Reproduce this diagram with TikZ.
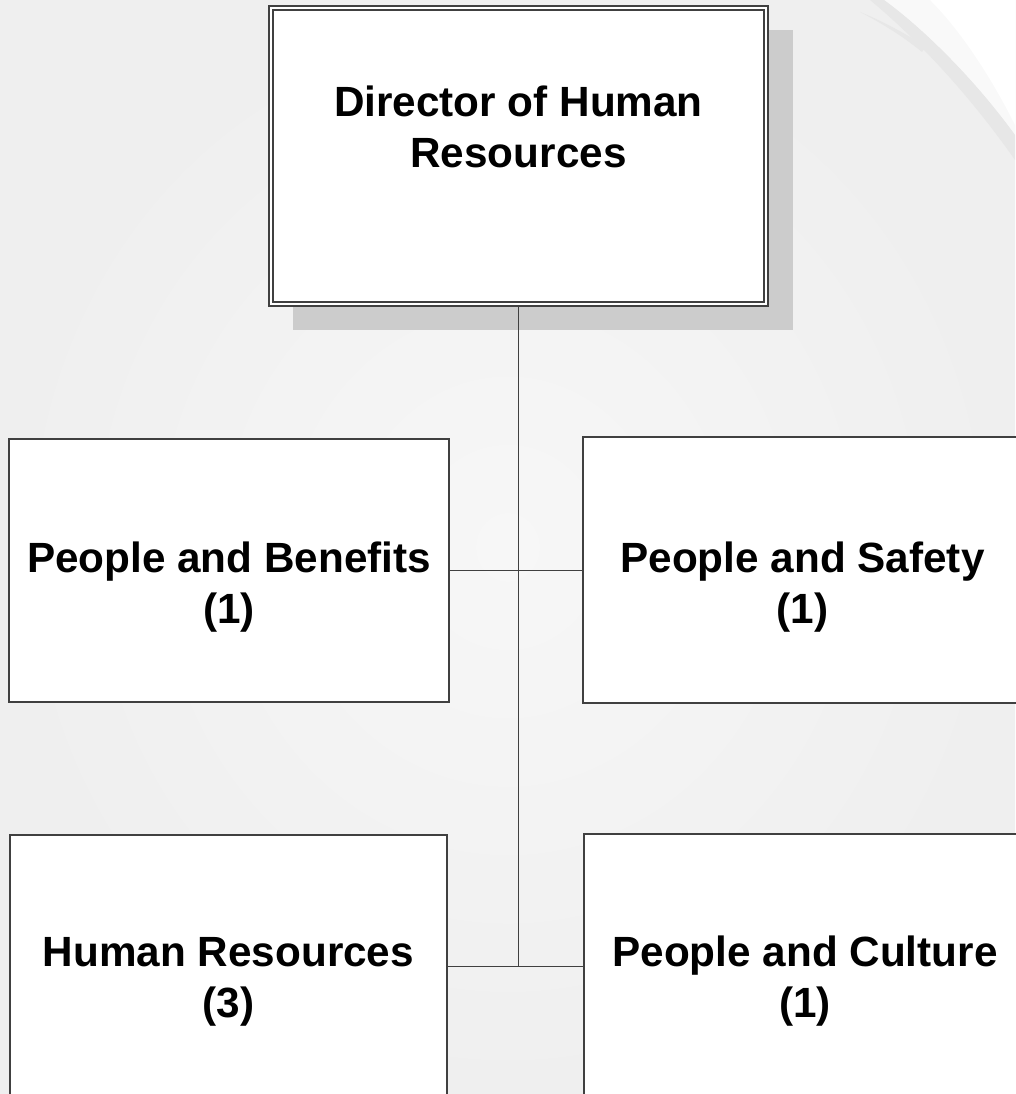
\documentclass[tikz,border=0pt]{standalone}
\usepackage{fontspec}
\setmainfont{Liberation Sans}
\definecolor{linegray}{HTML}{404040}
\definecolor{shadowgray}{HTML}{CCCCCC}
\definecolor{bandgray}{HTML}{E7E7E7}
\definecolor{bgin}{HTML}{F7F7F7}
\definecolor{bgout}{HTML}{EFEFEF}
\begin{document}
\begin{tikzpicture}[x=0.75pt,y=-0.75pt,
  conn/.style={draw=linegray, line width=1.4pt},
  orgbox/.style={draw=linegray, line width=1.4pt, fill=white, rectangle, inner sep=0pt},
  lbl/.style={font=\fontsize{31.7}{38.2}\selectfont\bfseries, align=center, inner sep=0pt}]
% background
\useasboundingbox (0,0) rectangle (1015,1094);
\shade[inner color=bgin, outer color=bgout] (0,0) rectangle (1015,1094);
\fill[white!60!bgout] (884,0) .. controls (925,30) and (975,80) .. (1015,135) -- (1015,0) -- cycle;
\fill[white] (930,0) .. controls (965,35) and (995,85) .. (1015,125) -- (1015,0) -- cycle;
\fill[bandgray] (870,0) .. controls (930,50) and (980,110) .. (1015,160) -- (1015,135) .. controls (975,80) and (925,30) .. (884,0) -- cycle;
\fill[bandgray] (860,12) .. controls (885,25) and (905,38) .. (922,52) -- (926,46) .. controls (905,34) and (885,22) .. cycle;
% shadow of the top box
\fill[shadowgray] (293,30) rectangle (793,330);
% boxes
\node[orgbox, line width=1.6pt, minimum width=374.25pt, minimum height=225pt] (dir) at (518.5,156) {};
\draw[draw=linegray, line width=1.3pt] ([shift={(5,5)}]dir.north west) rectangle ([shift={(-5,-5)}]dir.south east);
\node[orgbox, minimum width=330pt, minimum height=197.25pt] (ben) at (229,570.5) {};
\node[orgbox, minimum width=330pt, minimum height=199.5pt] (saf) at (803,570) {};
\node[orgbox, minimum width=327.75pt, minimum height=197.25pt] (hr) at (228.5,966.5) {};
\node[orgbox, minimum width=330pt, minimum height=197.25pt] (cul) at (804,965.5) {};
% labels
\node[lbl] (tdir) at (518.5,127.3) {Director of Human\\Resources};
\node[lbl] (tben) at (229,587.5) {People and Benefits\\(1)};
\node[lbl] (tsaf) at (802.5,587.5) {People and Safety\\(1)};
\node[lbl] (thr) at (228.5,981.5) {Human Resources\\(3)};
\node[lbl] (tcul) at (805,981.5) {People and Culture\\(1)};
% connectors
\coordinate (j2) at (dir.south |- hr.east);
\draw[conn] (dir.south) -- (j2);
\draw[conn] (ben.east) -- (saf.west |- ben.east);
\draw[conn] (hr.east) -- (cul.west |- hr.east);
\end{tikzpicture}
\end{document}
